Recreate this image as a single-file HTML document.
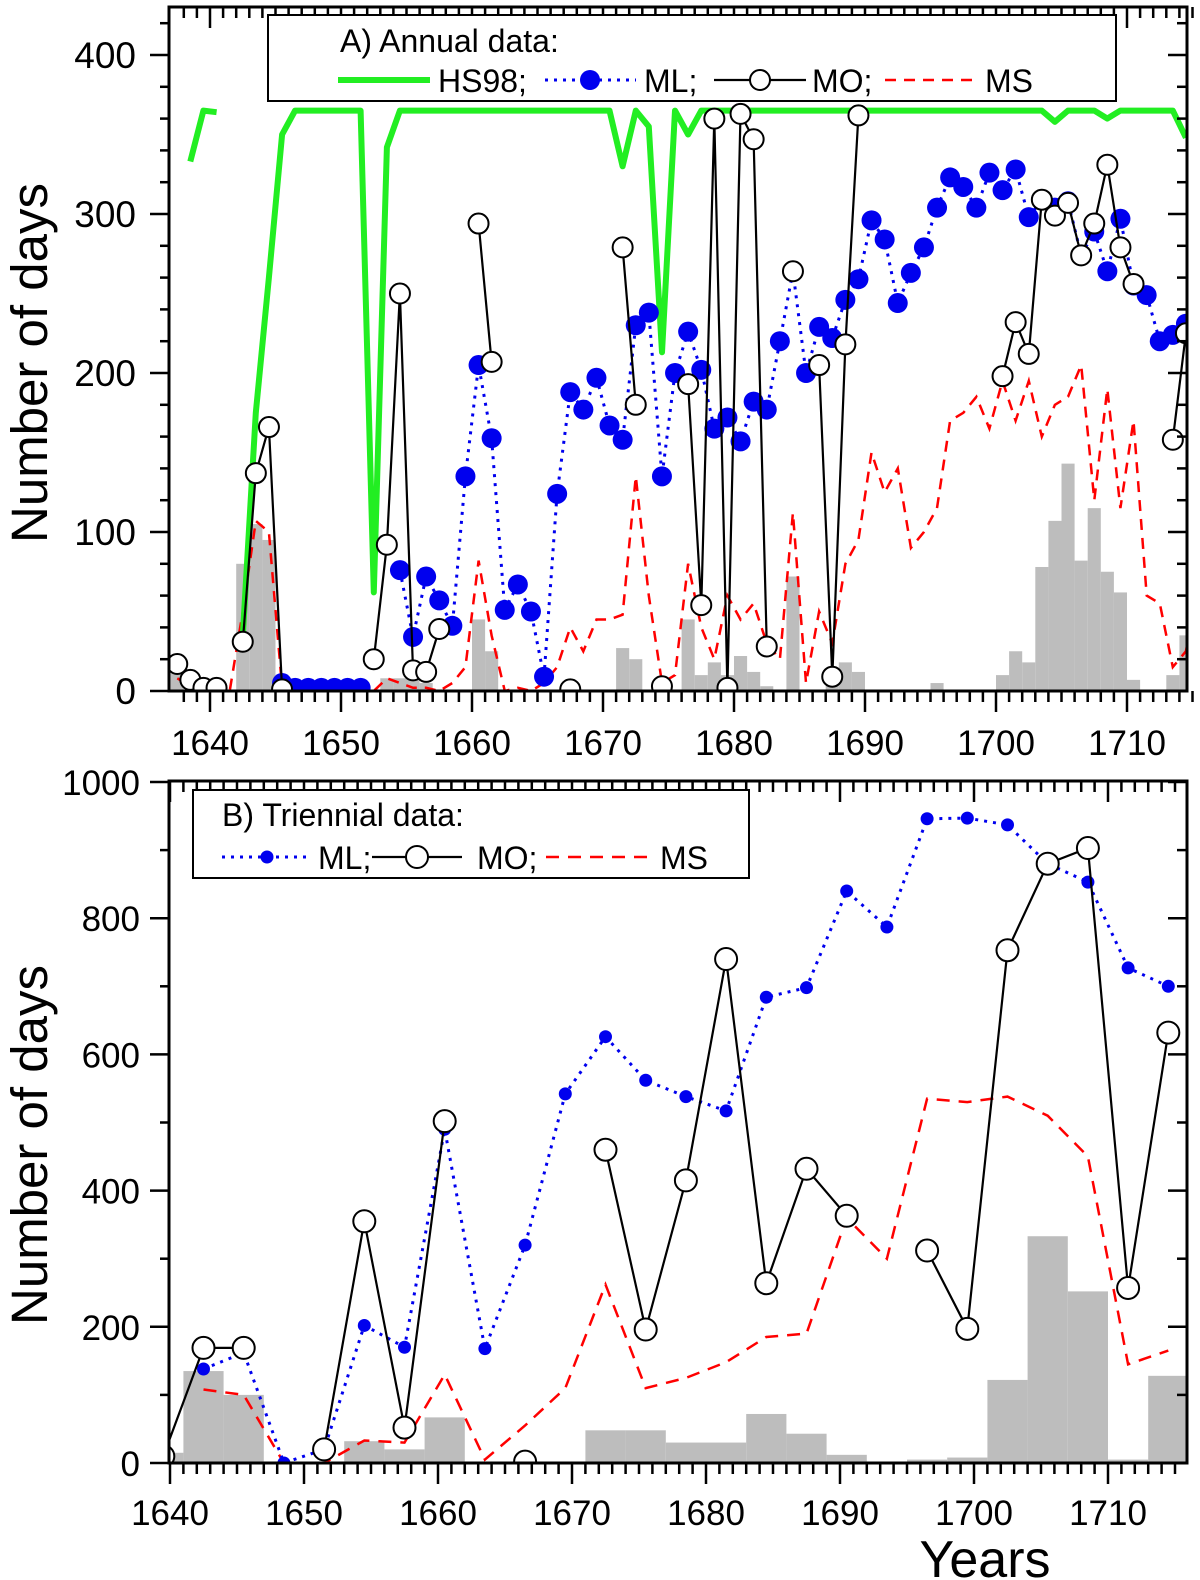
<!DOCTYPE html>
<html><head><meta charset="utf-8"><style>
html,body{margin:0;padding:0;background:#fff;}
svg{display:block;font-family:"Liberation Sans",Arial,sans-serif;}
</style></head><body>
<svg id="chart" width="1200" height="1580" viewBox="0 0 1200 1580" xmlns="http://www.w3.org/2000/svg">
<defs>
<clipPath id="clipA"><rect x="169" y="7" width="1018" height="684"/></clipPath>
<clipPath id="clipB"><rect x="169" y="781" width="1018" height="682"/></clipPath>
</defs>
</svg>
<script>
// ---------- Panel A: annual data ----------
const annualYears = [1637,1638,1639,1640,1641,1642,1643,1644,1645,1646,1647,1648,1649,1650,1651,1652,1653,1654,1655,1656,1657,1658,1659,1660,1661,1662,1663,1664,1665,1666,1667,1668,1669,1670,1671,1672,1673,1674,1675,1676,1677,1678,1679,1680,1681,1682,1683,1684,1685,1686,1687,1688,1689,1690,1691,1692,1693,1694,1695,1696,1697,1698,1699,1700,1701,1702,1703,1704,1705,1706,1707,1708,1709,1710,1711,1712,1713,1714,1715];
const hsA = [null,333,365,364,null,35,175,260,350,365,365,365,365,365,365,62,342,365,365,365,365,365,365,365,365,365,365,365,365,365,365,365,365,365,330,365,355,213,365,350,365,365,365,365,365,365,365,365,365,365,365,365,365,365,365,365,365,365,365,365,365,365,365,365,365,365,365,358,365,365,365,360,365,365,365,365,365,348,null];
const mlA = [null,null,null,null,null,null,null,null,5,2,2,2,2,2,2,null,null,76,34,72,57,41,135,205,159,51,67,50,9,124,188,177,197,167,158,230,238,135,200,226,202,165,172,157,182,177,220,264,200,229,222,246,259,296,284,244,263,279,304,323,317,304,326,315,328,298,309,304,308,274,289,264,297,255,249,220,224,231,null];
const moA = [17,7,2,2,null,31,137,166,1,null,null,null,null,null,null,20,92,250,13,12,39,null,null,294,207,null,null,null,null,null,1,null,null,null,279,180,null,3,null,193,54,360,2,363,347,28,null,264,null,205,9,218,362,null,null,null,null,null,null,null,null,null,null,198,232,212,309,299,307,274,294,331,279,256,null,null,158,225,249];
const msA = [8,3,0,0,0,50,107,100,2,0,0,0,0,0,0,0,8,5,2,2,0,5,15,82,35,0,2,0,5,15,40,25,45,45,48,135,60,5,10,80,40,20,60,45,55,30,20,112,5,50,30,80,95,150,125,140,90,100,115,170,175,185,165,195,170,195,160,180,185,205,120,190,115,170,60,55,15,25,70];
const barsA = [13,0,0,0,0,80,105,95,0,0,0,0,0,0,0,0,8,8,8,5,0,0,0,45,25,0,0,0,0,0,0,0,0,0,27,20,0,0,0,45,10,18,10,22,12,3,0,72,0,0,13,18,12,0,0,0,0,0,5,0,0,0,0,10,25,18,78,107,143,82,115,75,62,7,0,0,10,35,0];
const yTicksA = [0,100,200,300,400];
const xTicksA = [1640,1650,1660,1670,1680,1690,1700,1710];

// ---------- Panel B: triennial data ----------
const triYears = [1639.5,1642.5,1645.5,1648.5,1651.5,1654.5,1657.5,1660.5,1663.5,1666.5,1669.5,1672.5,1675.5,1678.5,1681.5,1684.5,1687.5,1690.5,1693.5,1696.5,1699.5,1702.5,1705.5,1708.5,1711.5,1714.5];
const mlB = [null,138,162,0,20,202,170,490,168,320,542,626,562,538,517,684,698,840,787,946,947,937,880,853,727,700];
const moB = [10,169,169,null,20,355,52,502,null,2,null,460,196,415,740,264,432,363,null,312,197,753,880,903,257,632];
const msB = [null,108,100,0,0,33,30,130,5,55,110,262,110,125,148,185,190,360,300,535,530,538,510,450,145,165];
const binStartsB = [1638,1641,1644,1647,1650,1653,1656,1659,1662,1665,1668,1671,1674,1677,1680,1683,1686,1689,1692,1695,1698,1701,1704,1707,1710,1713];
const barsB = [15,135,100,0,0,32,20,67,0,0,0,48,48,30,30,72,43,12,0,5,8,122,333,252,5,128];
const yTicksB = [0,200,400,600,800,1000];
const xTicksB = [1640,1650,1660,1670,1680,1690,1700,1710];

const NS = "http://www.w3.org/2000/svg";
const svg = document.getElementById('chart');
function mk(tag, attrs, parent){
  const e = document.createElementNS(NS, tag);
  for (const k in attrs) e.setAttribute(k, attrs[k]);
  (parent||svg).appendChild(e);
  return e;
}
const xA = yr => 210 + (yr + 0.5 - 1640) * 13.1;
const xAaxis = yr => 210 + (yr - 1640) * 13.1;
const yA = v => 691 - v * 1.59;
const xB = yr => 170 + (yr - 1640) * 13.4;
const yB = v => 1463 - v * 0.681;

function linePath(xs, vs, xf, yf){
  let d = '', pen = false;
  for (let i = 0; i < xs.length; i++){
    if (vs[i] === null){ pen = false; continue; }
    d += (pen ? 'L' : 'M') + xf(xs[i]).toFixed(1) + ',' + yf(vs[i]).toFixed(1);
    pen = true;
  }
  return d;
}

// ===== Panel A =====
const gA = mk('g', {'clip-path':'url(#clipA)'});


annualYears.forEach((yr, i) => {
  if (!barsA[i]) return;
  const r = mk('rect', {x: xAaxis(yr), y: yA(barsA[i]), width: 13.1, height: 691 - yA(barsA[i]), fill:'#bdbdbd'}, gA);
  
  
});
const msLineA = mk('path', {d: linePath(annualYears, msA, xA, yA), fill:'none', stroke:'#ff0000', 'stroke-width':2.5, 'stroke-dasharray':'11,8'}, gA);


const hsLine = mk('path', {d: linePath(annualYears, hsA, xA, yA), fill:'none', stroke:'#22ee22', 'stroke-width':6, 'stroke-linejoin':'round'}, gA);


const mlLineA = mk('path', {d: linePath(annualYears, mlA, xA, yA), fill:'none', stroke:'#0000ee', 'stroke-width':3, 'stroke-dasharray':'3,6'}, gA);


annualYears.forEach((yr, i) => {
  if (mlA[i] === null) return;
  const c = mk('circle', {cx: xA(yr), cy: yA(mlA[i]), r: 10, fill:'#0000ee'}, gA);
  
  
});
const moLineA = mk('path', {d: linePath(annualYears, moA, xA, yA), fill:'none', stroke:'#000', 'stroke-width':2.2}, gA);


annualYears.forEach((yr, i) => {
  if (moA[i] === null) return;
  const c = mk('circle', {cx: xA(yr), cy: yA(moA[i]), r: 10, fill:'#fff', stroke:'#000', 'stroke-width':2}, gA);
  
  
});
const frameA = mk('rect', {x:169, y:7, width:1018, height:684, fill:'none', stroke:'#000', 'stroke-width':3});


for (let yr = 1638; yr <= 1715; yr++){
  const major = yr % 10 === 0;
  const t = mk('line', {x1: xAaxis(yr), x2: xAaxis(yr), y1: 691, y2: major ? 712 : 702, stroke:'#000', 'stroke-width':2.5});
  
  
  const t2 = mk('line', {x1: xAaxis(yr), x2: xAaxis(yr), y1: 7, y2: major ? 28 : 18, stroke:'#000', 'stroke-width':2.5});
  
  
}
xTicksA.forEach(yr => {
  const t = mk('text', {x: xAaxis(yr), y: 755, 'font-size':35, 'text-anchor':'middle'});
  t.textContent = yr;
  
  
});
for (let v = 0; v <= 420; v += 20){
  const major = v % 100 === 0;
  const t = mk('line', {x1: major ? 150 : 160, x2: 169, y1: yA(v), y2: yA(v), stroke:'#000', 'stroke-width':2.5});
  
  
  const t2 = mk('line', {x1: 1187, x2: major ? 1168 : 1177, y1: yA(v), y2: yA(v), stroke:'#000', 'stroke-width':2.5});
  
  
}
yTicksA.forEach(v => {
  const t = mk('text', {x: 136, y: yA(v) + 13, 'font-size':37, 'text-anchor':'end'});
  t.textContent = v;
  
  
});
const ytA = mk('text', {x: 0, y: 0, 'font-size':51, 'text-anchor':'middle', transform:'translate(47,363) rotate(-90)'});
ytA.textContent = 'Number of days';



// legend A
const lgA = mk('g', {});


mk('rect', {x:268, y:15, width:848, height:86, fill:'#fff', stroke:'#000', 'stroke-width':2}, lgA);
const lgAT = mk('text', {x:340, y:52, 'font-size':32}, lgA); lgAT.textContent = 'A) Annual data:';


mk('line', {x1:338, x2:430, y1:80, y2:80, stroke:'#22ee22', 'stroke-width':6}, lgA);
let tt = mk('text', {x:438, y:92, 'font-size':32}, lgA); tt.textContent = 'HS98;';


mk('line', {x1:545, x2:636, y1:80, y2:80, stroke:'#0000ee', 'stroke-width':3, 'stroke-dasharray':'3,6'}, lgA);
mk('circle', {cx:590, cy:80, r:10, fill:'#0000ee'}, lgA);
tt = mk('text', {x:644, y:92, 'font-size':32}, lgA); tt.textContent = 'ML;';


mk('line', {x1:714, x2:806, y1:80, y2:80, stroke:'#000', 'stroke-width':2.2}, lgA);
mk('circle', {cx:760, cy:80, r:10, fill:'#fff', stroke:'#000', 'stroke-width':2}, lgA);
tt = mk('text', {x:812, y:92, 'font-size':32}, lgA); tt.textContent = 'MO;';


mk('line', {x1:885, x2:976, y1:80, y2:80, stroke:'#ff0000', 'stroke-width':2.5, 'stroke-dasharray':'11,8'}, lgA);
tt = mk('text', {x:985, y:92, 'font-size':32}, lgA); tt.textContent = 'MS';



// ===== Panel B =====
const gB = mk('g', {'clip-path':'url(#clipB)'});


binStartsB.forEach((yr, i) => {
  if (!barsB[i]) return;
  const r = mk('rect', {x: xB(yr), y: yB(barsB[i]), width: 3 * 13.4, height: 1463 - yB(barsB[i]), fill:'#bdbdbd'}, gB);
  
  
});
const msLineB = mk('path', {d: linePath(triYears, msB, xB, yB), fill:'none', stroke:'#ff0000', 'stroke-width':2.5, 'stroke-dasharray':'13,9'}, gB);


const mlLineB = mk('path', {d: linePath(triYears, mlB, xB, yB), fill:'none', stroke:'#0000ee', 'stroke-width':3, 'stroke-dasharray':'3,6'}, gB);


triYears.forEach((yr, i) => {
  if (mlB[i] === null) return;
  const c = mk('circle', {cx: xB(yr), cy: yB(mlB[i]), r: 6.5, fill:'#0000ee'}, gB);
  
  
});
const moLineB = mk('path', {d: linePath(triYears, moB, xB, yB), fill:'none', stroke:'#000', 'stroke-width':2.2}, gB);


triYears.forEach((yr, i) => {
  if (moB[i] === null) return;
  const c = mk('circle', {cx: xB(yr), cy: yB(moB[i]), r: 11, fill:'#fff', stroke:'#000', 'stroke-width':2}, gB);
  
  
});
const frameB = mk('rect', {x:169, y:781, width:1018, height:682, fill:'none', stroke:'#000', 'stroke-width':3});


for (let yr = 1640; yr <= 1715; yr++){
  const major = yr % 10 === 0;
  const t = mk('line', {x1: xB(yr), x2: xB(yr), y1: 1463, y2: major ? 1484 : 1474, stroke:'#000', 'stroke-width':2.5});
  
  
  const t2 = mk('line', {x1: xB(yr), x2: xB(yr), y1: 781, y2: major ? 802 : 792, stroke:'#000', 'stroke-width':2.5});
  
  
}
xTicksB.forEach(yr => {
  const t = mk('text', {x: xB(yr), y: 1525, 'font-size':35, 'text-anchor':'middle'});
  t.textContent = yr;
  
  
});
for (let v = 0; v <= 1000; v += 100){
  const major = v % 200 === 0;
  const t = mk('line', {x1: major ? 150 : 160, x2: 169, y1: yB(v), y2: yB(v), stroke:'#000', 'stroke-width':2.5});
  
  
  const t2 = mk('line', {x1: 1187, x2: major ? 1168 : 1177, y1: yB(v), y2: yB(v), stroke:'#000', 'stroke-width':2.5});
  
  
}
yTicksB.forEach(v => {
  const t = mk('text', {x: 140, y: yB(v) + 13, 'font-size':35, 'text-anchor':'end'});
  t.textContent = v;
  
  
});
const ytB = mk('text', {x: 0, y: 0, 'font-size':51, 'text-anchor':'middle', transform:'translate(47,1145) rotate(-90)'});
ytB.textContent = 'Number of days';


const xt = mk('text', {x: 985, y: 1577, 'font-size':52, 'text-anchor':'middle'});
xt.textContent = 'Years';



// legend B
const lgB = mk('g', {});


mk('rect', {x:193, y:790, width:556, height:88, fill:'#fff', stroke:'#000', 'stroke-width':2}, lgB);
const lgBT = mk('text', {x:222, y:826, 'font-size':32}, lgB); lgBT.textContent = 'B) Triennial data:';


mk('line', {x1:222, x2:312, y1:857, y2:857, stroke:'#0000ee', 'stroke-width':3, 'stroke-dasharray':'3,6'}, lgB);
mk('circle', {cx:267, cy:857, r:6.5, fill:'#0000ee'}, lgB);
tt = mk('text', {x:318, y:869, 'font-size':32}, lgB); tt.textContent = 'ML;';


mk('line', {x1:372, x2:462, y1:857, y2:857, stroke:'#000', 'stroke-width':2.2}, lgB);
mk('circle', {cx:417, cy:857, r:11, fill:'#fff', stroke:'#000', 'stroke-width':2}, lgB);
tt = mk('text', {x:477, y:869, 'font-size':32}, lgB); tt.textContent = 'MO;';


mk('line', {x1:546, x2:648, y1:857, y2:857, stroke:'#ff0000', 'stroke-width':2.5, 'stroke-dasharray':'13,9'}, lgB);
tt = mk('text', {x:660, y:869, 'font-size':32}, lgB); tt.textContent = 'MS';


</script>
</body></html>
